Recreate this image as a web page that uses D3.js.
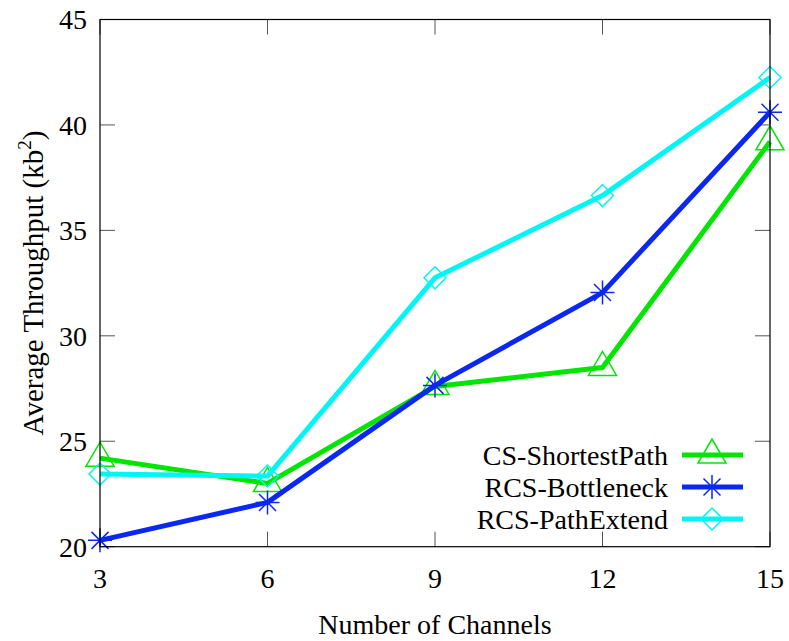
<!DOCTYPE html>
<html>
<head>
<meta charset="utf-8">
<script src="https://cdn.jsdelivr.net/npm/d3@7"></script>
<style>
  body { margin: 0; background: #fff; }
  svg text { font-family: "Liberation Serif", "DejaVu Serif", serif; fill: #000; }
</style>
</head>
<body>
<svg id="chart" width="789" height="641"></svg>
<script>
const channels = [3, 6, 9, 12, 15]
const shortestPath = [24.2, 23.0, 27.6, 28.5, 39.2]
const bottleneck = [20.3, 22.1, 27.65, 32.05, 40.6]
const pathExtend = [23.45, 23.35, 32.75, 36.65, 42.25]
const yTicks = [20, 25, 30, 35, 40, 45]

const series = [
	{ name: 'CS-ShortestPath', values: shortestPath, color: '#00e600', marker: 'triangle' },
	{ name: 'RCS-Bottleneck', values: bottleneck, color: '#0a28f0', marker: 'star' },
	{ name: 'RCS-PathExtend', values: pathExtend, color: '#00f5f5', marker: 'diamond' }
]

const svg = d3.select('#chart')
const m = { left: 100, right: 770, top: 19.5, bottom: 546.7 }
const fs = 28

const x = d3.scaleLinear().domain([3, 15]).range([m.left, m.right])
const y = d3.scaleLinear().domain([20, 45]).range([m.bottom, m.top])

// inward ticks on all four sides (gnuplot style)
const tickColor = '#555'
const tl = 15
const ticks = svg.append('g').attr('stroke', tickColor).attr('stroke-width', 1)
yTicks.forEach(v => {
	ticks.append('line').attr('x1', m.left).attr('x2', m.left + tl).attr('y1', y(v)).attr('y2', y(v))
	ticks.append('line').attr('x1', m.right).attr('x2', m.right - tl).attr('y1', y(v)).attr('y2', y(v))
})
channels.forEach(v => {
	ticks.append('line').attr('x1', x(v)).attr('x2', x(v)).attr('y1', m.bottom).attr('y2', m.bottom - tl)
	ticks.append('line').attr('x1', x(v)).attr('x2', x(v)).attr('y1', m.top).attr('y2', m.top + tl)
})

svg.append('g').selectAll('text').data(yTicks).join('text')
	.attr('x', m.left - 13).attr('y', d => y(d)).attr('dy', '0.35em')
	.attr('text-anchor', 'end').attr('font-size', fs).text(d => d)

svg.append('g').selectAll('text').data(channels).join('text')
	.attr('x', d => x(d)).attr('y', 578).attr('dy', '0.35em')
	.attr('text-anchor', 'middle').attr('font-size', fs).text(d => d)

svg.append('text').attr('x', 435).attr('y', 634)
	.attr('text-anchor', 'middle').attr('font-size', fs).text('Number of Channels')

const yt = svg.append('text').attr('transform', 'translate(43,283) rotate(-90)')
	.attr('text-anchor', 'middle').attr('font-size', 29)
yt.append('tspan').text('Average Throughput (kb')
yt.append('tspan').attr('font-size', 19).attr('dy', -12).text('2')
yt.append('tspan').attr('dy', 12).text(')')

const markerPath = (type, cx, cy) => {
	if (type === 'triangle') {
		return `M${cx - 14},${cy + 8} L${cx + 14},${cy + 8} L${cx},${cy - 16} Z`
	}
	if (type === 'diamond') {
		return `M${cx},${cy - 11} L${cx + 11},${cy} L${cx},${cy + 11} L${cx - 11},${cy} Z`
	}
	const r = 12, d = 8.5
	return `M${cx - r},${cy} L${cx + r},${cy} M${cx},${cy - r} L${cx},${cy + r}` +
		`M${cx - d},${cy - d} L${cx + d},${cy + d} M${cx - d},${cy + d} L${cx + d},${cy - d}`
}

const line = d3.line().x((d, i) => x(channels[i])).y(d => y(d))
const plot = svg.append('g')
series.forEach(s => {
	plot.append('path').attr('d', line(s.values)).attr('fill', 'none')
		.attr('stroke', s.color).attr('stroke-width', 5).attr('stroke-linejoin', 'round')
	s.values.forEach((v, i) => {
		plot.append('path').attr('d', markerPath(s.marker, x(channels[i]), y(v)))
			.attr('fill', 'none').attr('stroke', s.color).attr('stroke-width', 1.5)
	})
})

// legend
const legend = svg.append('g')
series.forEach((s, i) => {
	const ly = 455 + i * 32
	legend.append('text').attr('x', 668).attr('y', ly).attr('dy', '0.35em')
		.attr('text-anchor', 'end').attr('font-size', fs).text(s.name)
	legend.append('line').attr('x1', 682).attr('x2', 743).attr('y1', ly).attr('y2', ly)
		.attr('stroke', s.color).attr('stroke-width', 5)
	legend.append('path').attr('d', markerPath(s.marker, 712, ly))
		.attr('fill', 'none').attr('stroke', s.color).attr('stroke-width', 1.5)
})

svg.append('rect').attr('x', m.left).attr('y', m.top)
	.attr('width', m.right - m.left).attr('height', m.bottom - m.top)
	.attr('fill', 'none').attr('stroke', '#000').attr('stroke-width', 1.2)
</script>
</body>
</html>
